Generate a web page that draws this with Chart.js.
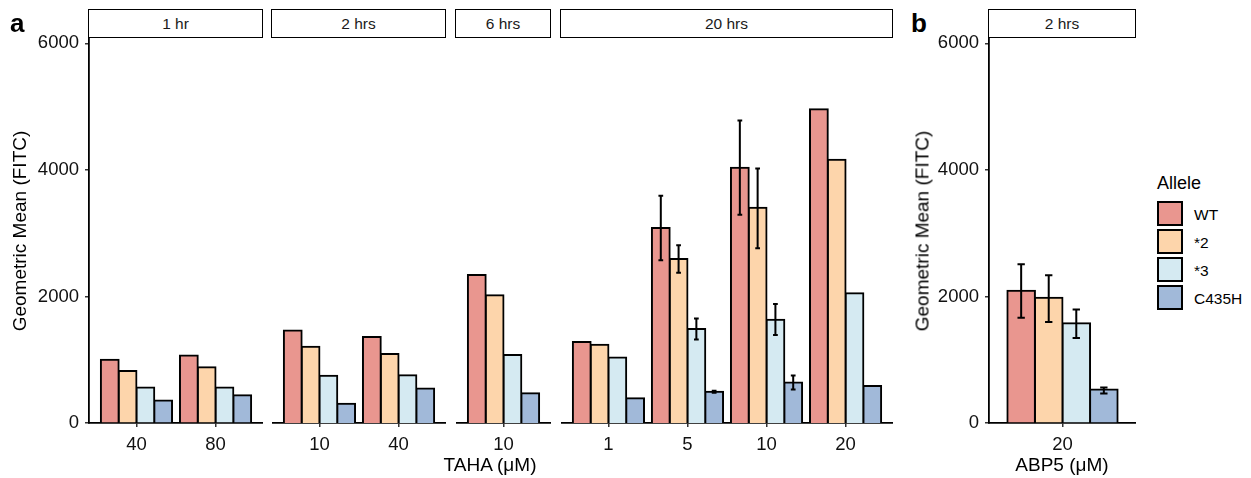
<!DOCTYPE html>
<html><head><meta charset="utf-8">
<script src="https://cdn.jsdelivr.net/npm/chart.js@4.4.0/dist/chart.umd.min.js"></script>
<style>
body{margin:0;width:1251px;height:478px;background:#fff;position:relative;overflow:hidden;font-family:"Liberation Sans",Arial,sans-serif;}
.txt{position:absolute;white-space:nowrap;color:#000;}
.strip{position:absolute;box-sizing:border-box;border:1.5px solid #000;background:#fff;color:#1a1a1a;font-size:15.5px;display:flex;align-items:center;justify-content:center;padding-top:2px;}
canvas{position:absolute;top:0;}
.key{position:absolute;box-sizing:border-box;border:2px solid #000;width:26px;height:25px;}
</style></head><body>
<div id="root"></div>
<script>
// ---------- data ----------
const alleles = ['WT', '*2', '*3', 'C435H'];
const alleleColors = ['#E9968F', '#FDD5AB', '#D5EAF2', '#A1B9D9'];
const yTicks = [0, 2000, 4000, 6000];
const yMax = 6100;

// Panel a, facet "1 hr"
const f1Label = '1 hr';
const f1Cats = ['40', '80'];
const f1WT = [1000, 1065];
const f1S2 = [820, 880];
const f1S3 = [560, 560];
const f1C435H = [355, 440];

// Panel a, facet "2 hrs"
const f2Label = '2 hrs';
const f2Cats = ['10', '40'];
const f2WT = [1460, 1360];
const f2S2 = [1205, 1090];
const f2S3 = [745, 755];
const f2C435H = [305, 545];

// Panel a, facet "6 hrs"
const f3Label = '6 hrs';
const f3Cats = ['10'];
const f3WT = [2340];
const f3S2 = [2020];
const f3S3 = [1075];
const f3C435H = [470];

// Panel a, facet "20 hrs"
const f4Label = '20 hrs';
const f4Cats = ['1', '5', '10', '20'];
const f4WT = [1280, 3080, 4035, 4960];
const f4S2 = [1235, 2590, 3400, 4160];
const f4S3 = [1035, 1485, 1630, 2050];
const f4C435H = [390, 495, 640, 585];
const f4WTlo = [null, 2570, 3290, null];
const f4WThi = [null, 3590, 4780, null];
const f4S2lo = [null, 2375, 2760, null];
const f4S2hi = [null, 2810, 4020, null];
const f4S3lo = [null, 1320, 1390, null];
const f4S3hi = [null, 1650, 1880, null];
const f4C435Hlo = [null, 480, 530, null];
const f4C435Hhi = [null, 510, 750, null];

// Panel b, "2 hrs", ABP5
const bLabel = '2 hrs';
const bCats = ['20'];
const bWT = [2090];
const bS2 = [1980];
const bS3 = [1575];
const bC435H = [528];
const bWTlo = [1665], bWThi = [2510];
const bS2lo = [1595], bS2hi = [2335];
const bS3lo = [1345], bS3hi = [1795];
const bC435Hlo = [465], bC435Hhi = [560];

const yTitle = 'Geometric Mean (FITC)';
const xTitleA = 'TAHA (μM)';
const xTitleB = 'ABP5 (μM)';
const legendTitle = 'Allele';

// ---------- layout ----------
const H = 478, PLOT_TOP = 37, PLOT_BOTTOM = 423;
const FONT = '"Liberation Sans", Arial, sans-serif';

const facets = [
  {label: f1Label, cats: f1Cats, series: [f1WT, f1S2, f1S3, f1C435H], lo: null, hi: null,
   left: 0, width: 263, yAxis: 89},
  {label: f2Label, cats: f2Cats, series: [f2WT, f2S2, f2S3, f2C435H], lo: null, hi: null,
   left: 272, width: 174, yAxis: 0},
  {label: f3Label, cats: f3Cats, series: [f3WT, f3S2, f3S3, f3C435H], lo: null, hi: null,
   left: 456, width: 95, yAxis: 0},
  {label: f4Label, cats: f4Cats, series: [f4WT, f4S2, f4S3, f4C435H],
   lo: [f4WTlo, f4S2lo, f4S3lo, f4C435Hlo], hi: [f4WThi, f4S2hi, f4S3hi, f4C435Hhi],
   left: 561, width: 332, yAxis: 0},
  {label: bLabel, cats: bCats, series: [bWT, bS2, bS3, bC435H],
   lo: [bWTlo, bS2lo, bS3lo, bC435Hlo], hi: [bWThi, bS2hi, bS3hi, bC435Hhi],
   left: 930, width: 206, yAxis: 59}
];

const root = document.getElementById('root');
function addText(txt, css) {
  const d = document.createElement('div');
  d.className = 'txt';
  d.textContent = txt;
  Object.assign(d.style, css);
  root.appendChild(d);
  return d;
}

const errPlugin = {
  id: 'errbars',
  afterDatasetsDraw(chart) {
    const ctx = chart.ctx, xs = chart.scales.x, ys = chart.scales.y;
    const unit = xs.getPixelForValue(1) - xs.getPixelForValue(0);
    const half = unit * 0.06 / 2;
    ctx.save();
    ctx.strokeStyle = '#000';
    ctx.lineWidth = 2;
    chart.data.datasets.forEach((ds, di) => {
      if (!ds.errLo) return;
      const meta = chart.getDatasetMeta(di);
      ds.errLo.forEach((lo, i) => {
        const hi = ds.errHi[i];
        if (lo == null || hi == null) return;
        const x = meta.data[i].x;
        const y1 = ys.getPixelForValue(lo), y2 = ys.getPixelForValue(hi);
        ctx.beginPath();
        ctx.moveTo(x, y1); ctx.lineTo(x, y2);
        ctx.moveTo(x - half, y1); ctx.lineTo(x + half, y1);
        ctx.moveTo(x - half, y2); ctx.lineTo(x + half, y2);
        ctx.stroke();
      });
    });
    ctx.restore();
  }
};

facets.forEach((f, fi) => {
  const cv = document.createElement('canvas');
  cv.width = f.width; cv.height = H;
  cv.style.left = f.left + 'px';
  cv.style.width = f.width + 'px'; cv.style.height = H + 'px';
  root.appendChild(cv);

  const plotW = f.width - f.yAxis;
  const n = f.cats.length;
  const unitPx = plotW / (n + 0.2);
  const barPx = unitPx * 0.9 / 4;

  const datasets = alleles.map((a, ai) => ({
    label: a,
    data: f.series[ai].map((v, i) => ({x: i + 1, y: v})),
    backgroundColor: alleleColors[ai],
    borderColor: '#000',
    borderWidth: 2,
    inflateAmount: 1,
    barThickness: barPx,
    errLo: f.lo ? f.lo[ai] : null,
    errHi: f.hi ? f.hi[ai] : null
  }));

  new Chart(cv, {
    type: 'bar',
    data: {datasets},
    options: {
      responsive: false, animation: false, devicePixelRatio: 1, events: [],
      layout: {padding: {top: PLOT_TOP, left: 0, right: 0, bottom: 0}},
      plugins: {legend: {display: false}, tooltip: {enabled: false}},
      scales: {
        x: {
          type: 'linear', min: 0.4, max: n + 0.6, offset: false, z: 1,
          grid: {display: true, offset: false, drawOnChartArea: false, drawTicks: true,
                 tickLength: 4, tickColor: '#333', lineWidth: 1.5},
          border: {display: true, color: '#000', width: 1.8},
          ticks: {autoSkip: false, maxRotation: 0, padding: 7, color: '#111',
                  font: {family: FONT, size: 18.5},
                  callback: v => f.cats[Math.round(v) - 1]},
          afterBuildTicks: s => { s.ticks = f.cats.map((c, i) => ({value: i + 1})); },
          afterFit: s => { s.height = H - PLOT_BOTTOM; }
        },
        y: {
          display: f.yAxis > 0, min: 0, max: yMax,
          grid: {display: true, drawOnChartArea: false, drawTicks: true,
                 tickLength: 4, tickColor: '#333', lineWidth: 1.5},
          border: {display: true, color: '#000', width: 1.8},
          ticks: {padding: 6, color: '#111', font: {family: FONT, size: 18.5},
                  callback: v => String(v)},
          afterBuildTicks: s => { s.ticks = yTicks.map(v => ({value: v})); },
          afterFit: s => { s.width = f.yAxis; }
        }
      }
    },
    plugins: [errPlugin]
  });

  // facet strip
  const plotLeft = f.left + f.yAxis;
  const st = document.createElement('div');
  st.className = 'strip';
  st.textContent = f.label;
  Object.assign(st.style, {left: (plotLeft - 1) + 'px', top: '9px',
                           width: (plotW + 1) + 'px', height: '28.5px'});
  root.appendChild(st);
});

// panel tags
addText('a', {left: '10px', top: '10px', fontSize: '26px', fontWeight: 'bold', lineHeight: '26px'});
addText('b', {left: '911px', top: '10px', fontSize: '26px', fontWeight: 'bold', lineHeight: '26px'});

// axis titles
addText(xTitleA, {left: '490px', top: '455px', fontSize: '19px', lineHeight: '19px', transform: 'translateX(-50%)'});
addText(xTitleB, {left: '1062px', top: '455px', fontSize: '19px', lineHeight: '19px', transform: 'translateX(-50%)'});
addText(yTitle, {left: '19px', top: '231px', fontSize: '19px', lineHeight: '19px',
                 transform: 'translate(-50%,-50%) rotate(-90deg)'});
addText(yTitle, {left: '921.5px', top: '231px', fontSize: '19px', lineHeight: '19px',
                 transform: 'translate(-50%,-50%) rotate(-90deg)'});

// legend
addText(legendTitle, {left: '1157px', top: '174px', fontSize: '18px', lineHeight: '18px'});
alleles.forEach((a, i) => {
  const k = document.createElement('div');
  k.className = 'key';
  Object.assign(k.style, {left: '1157px', top: (201 + i * 28) + 'px', background: alleleColors[i]});
  root.appendChild(k);
  addText(a, {left: '1194px', top: (201 + i * 28 + 12.5 - 7) + 'px', fontSize: '15.5px', lineHeight: '16px'});
});
</script>
</body></html>
